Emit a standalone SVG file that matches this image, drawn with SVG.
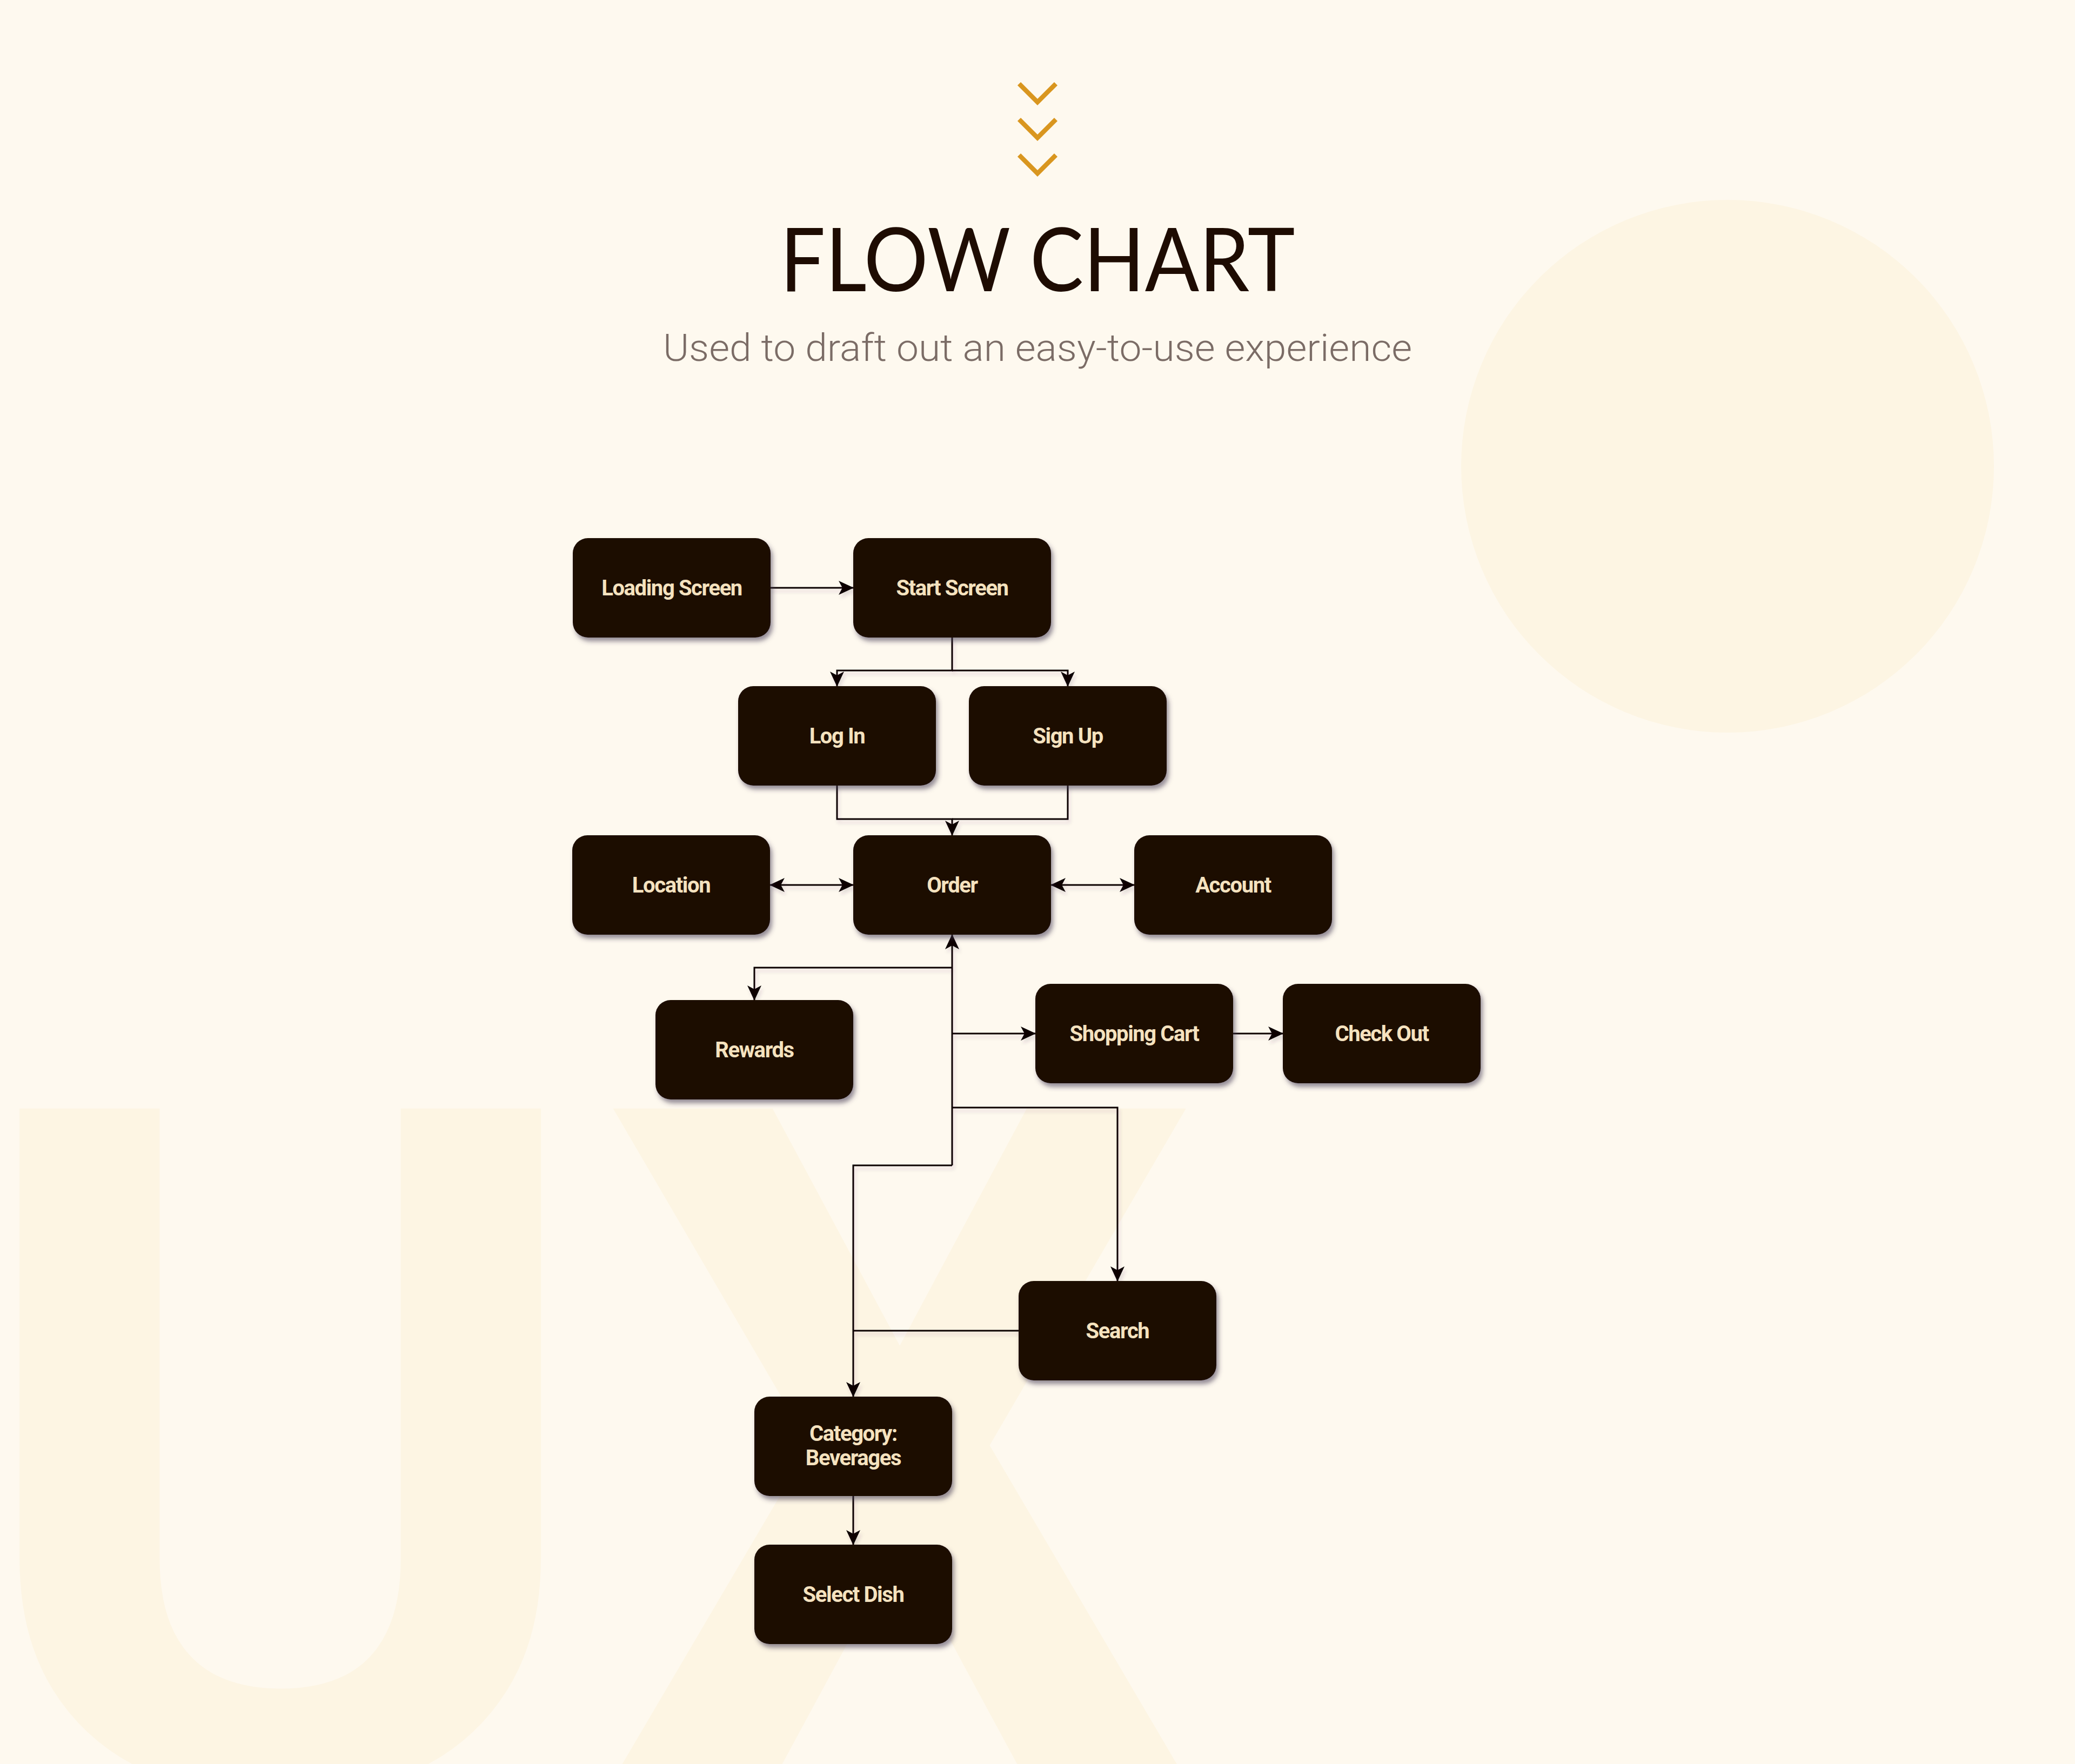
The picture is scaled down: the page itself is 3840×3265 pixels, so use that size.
<svg xmlns="http://www.w3.org/2000/svg" width="3840" height="3265" viewBox="0 0 3840 3265">
<style>
.bg-shape{fill:#FDF5E3}
.box{fill:#1E0C02;filter:url(#shadow)}
.lbl{font-family:Roboto,"Liberation Sans",sans-serif;font-weight:700;font-size:40px;fill:#F5E2BF;text-anchor:middle;letter-spacing:-1.4px}
.conn{fill:none;stroke:#0a0604;stroke-width:3}
.chev{fill:none;stroke:#D9961F;stroke-width:8.5;stroke-linejoin:miter}
</style>
<defs>
<filter id="shadow" x="-10%" y="-10%" width="130%" height="140%">
<feDropShadow dx="4" dy="7" stdDeviation="4" flood-color="#3c3550" flood-opacity="0.55"/>
</filter>
<filter id="lshadow" x="-5%" y="-5%" width="110%" height="110%">
<feDropShadow dx="3" dy="6" stdDeviation="3" flood-color="#3c3550" flood-opacity="0.15"/>
</filter>
<marker id="arr" markerUnits="userSpaceOnUse" markerWidth="28" markerHeight="26" viewBox="0 0 28 26" refX="27" refY="13" orient="auto-start-reverse">
<path d="M0,0 L28,13 L0,26 L7,13 Z" fill="#0a0604"/>
</marker>
</defs>
<rect width="3840" height="3265" fill="#FEF9EF"/>
<g id="background">
<circle class="bg-shape" cx="3197" cy="863" r="493"/>
<text x="-65" y="3310" font-family="Roboto, 'Liberation Sans', sans-serif" font-weight="700" font-size="1770" class="bg-shape">U<tspan dx="5" textLength="1115" lengthAdjust="spacingAndGlyphs">X</tspan></text>
</g>
<g id="header">
<path class="chev" d="M1886,155 L1920,189 L1954,155"/>
<path class="chev" d="M1886,221 L1920,255 L1954,221"/>
<path class="chev" d="M1886,287 L1920,321 L1954,287"/>
<text x="1920" y="539" text-anchor="middle" font-family="Lato, 'Liberation Sans', sans-serif" font-weight="400" font-size="163" fill="#1E0C02" textLength="953" lengthAdjust="spacingAndGlyphs">FLOW CHART</text>
<text x="1920" y="668" text-anchor="middle" font-family="Roboto, 'Liberation Sans', sans-serif" font-weight="300" font-size="70" fill="#7B6C66" textLength="1386" lengthAdjust="spacingAndGlyphs">Used to draft out an easy-to-use experience</text>
</g>
<g id="connectors" filter="url(#lshadow)">
<path class="conn" d="M1426,1088 H1579" marker-end="url(#arr)"/>
<path class="conn" d="M1762,1180 V1241 H1549 V1270" marker-end="url(#arr)"/>
<path class="conn" d="M1762,1241 H1976 V1270" marker-end="url(#arr)"/>
<path class="conn" d="M1549,1454 V1516 H1762 V1546" marker-end="url(#arr)"/>
<path class="conn" d="M1976,1454 V1516 H1762"/>
<path class="conn" d="M1425,1638 H1579" marker-start="url(#arr)" marker-end="url(#arr)"/>
<path class="conn" d="M1945,1638 H2099" marker-start="url(#arr)" marker-end="url(#arr)"/>
<path class="conn" d="M1762,2157 V1730" marker-end="url(#arr)"/>
<path class="conn" d="M1762,2157 H1579 V2585" marker-end="url(#arr)"/>
<path class="conn" d="M1762,1791 H1396 V1851" marker-end="url(#arr)"/>
<path class="conn" d="M1762,1913 H1916" marker-end="url(#arr)"/>
<path class="conn" d="M1762,2050 H2068 V2371" marker-end="url(#arr)"/>
<path class="conn" d="M1885,2463 H1579"/>
<path class="conn" d="M2282,1913 H2374" marker-end="url(#arr)"/>
<path class="conn" d="M1579,2769 V2859" marker-end="url(#arr)"/>
</g>
<g id="node-loading"><rect class="box" x="1060" y="996" width="366" height="184" rx="28"/><text class="lbl" x="1243" y="1102">Loading Screen</text></g>
<g id="node-start"><rect class="box" x="1579" y="996" width="366" height="184" rx="28"/><text class="lbl" x="1762" y="1102">Start Screen</text></g>
<g id="node-login"><rect class="box" x="1366" y="1270" width="366" height="184" rx="28"/><text class="lbl" x="1549" y="1376">Log In</text></g>
<g id="node-signup"><rect class="box" x="1793" y="1270" width="366" height="184" rx="28"/><text class="lbl" x="1976" y="1376">Sign Up</text></g>
<g id="node-location"><rect class="box" x="1059" y="1546" width="366" height="184" rx="28"/><text class="lbl" x="1242" y="1652">Location</text></g>
<g id="node-order"><rect class="box" x="1579" y="1546" width="366" height="184" rx="28"/><text class="lbl" x="1762" y="1652">Order</text></g>
<g id="node-account"><rect class="box" x="2099" y="1546" width="366" height="184" rx="28"/><text class="lbl" x="2282" y="1652">Account</text></g>
<g id="node-rewards"><rect class="box" x="1213" y="1851" width="366" height="184" rx="28"/><text class="lbl" x="1396" y="1957">Rewards</text></g>
<g id="node-cart"><rect class="box" x="1916" y="1821" width="366" height="184" rx="28"/><text class="lbl" x="2099" y="1927">Shopping Cart</text></g>
<g id="node-checkout"><rect class="box" x="2374" y="1821" width="366" height="184" rx="28"/><text class="lbl" x="2557" y="1927">Check Out</text></g>
<g id="node-search"><rect class="box" x="1885" y="2371" width="366" height="184" rx="28"/><text class="lbl" x="2068" y="2477">Search</text></g>
<g id="node-category"><rect class="box" x="1396" y="2585" width="366" height="184" rx="28"/><text class="lbl" x="1579" y="2667">Category:</text><text class="lbl" x="1579" y="2712">Beverages</text></g>
<g id="node-select"><rect class="box" x="1396" y="2859" width="366" height="184" rx="28"/><text class="lbl" x="1579" y="2965">Select Dish</text></g>
</svg>
